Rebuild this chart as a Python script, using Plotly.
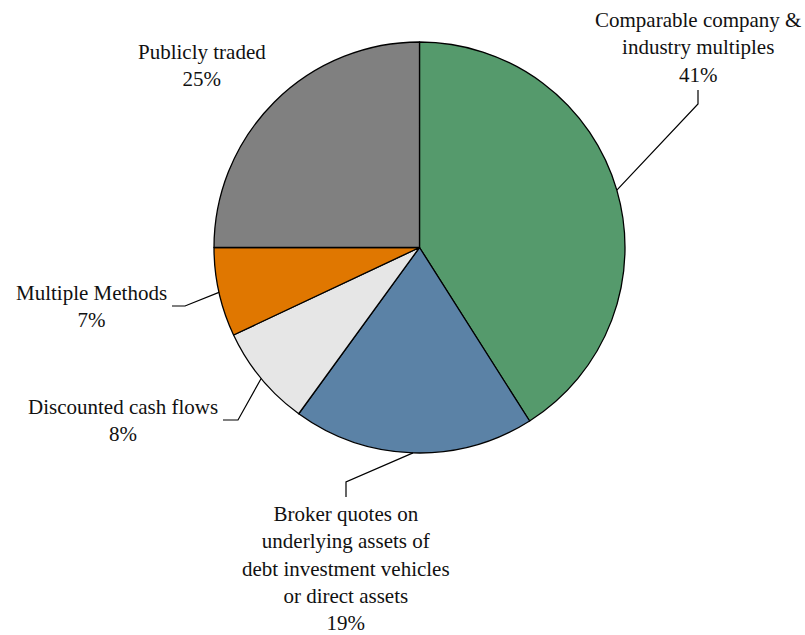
import math
import plotly.graph_objects as go

# Valuation methods, in clockwise order from 12 o'clock
categories = [
    "Comparable company &<br>industry multiples",
    "Broker quotes on<br>underlying assets of<br>debt investment vehicles<br>or direct assets",
    "Discounted cash flows",
    "Multiple Methods",
    "Publicly traded",
]
shares = [41, 19, 8, 7, 25]
colors = ["#559a6c", "#5b82a6", "#e6e6e6", "#e07700", "#808080"]

W, H = 805, 635
CX, CY, R = 419.5, 247.5, 205.5   # pie centre and radius in pixels

FONT = dict(family="Liberation Serif", size=21, color="#111111")

fig = go.Figure(go.Pie(
    labels=[c.replace("<br>", " ") for c in categories],
    values=shares,
    sort=False,
    direction="clockwise",
    rotation=0,
    marker=dict(colors=colors, line=dict(color="#000000", width=1.3)),
    textinfo="none",
    hoverinfo="label+percent",
    domain=dict(x=[(CX - R) / W, (CX + R) / W],
                y=[(H - CY - R) / H, (H - CY + R) / H]),
    showlegend=False,
))

def px(x):
    return x / W

def py(y):
    return 1 - y / H

# Mid-angle of each slice (degrees clockwise from 12 o'clock)
total = sum(shares)
mids = []
acc = 0
for v in shares:
    mids.append((acc + v / 2) / total * 360)
    acc += v

def edge(i):
    a = math.radians(mids[i])
    return CX + R * math.sin(a), CY - R * math.cos(a)

# Leader-line elbows and label centres (pixel positions)
layout_spec = [
    # (elbow point, end point, label centre x, label centre y)
    ((698, 104), (698, 90), 698, 47.5),
    ((346, 482), (346, 497), 346, 568),
    ((238, 420), (223, 420), 123, 420),
    ((185, 306), (172, 306), 91, 306),
    (None, None, 202, 65.5),
]

shapes = []
annotations = []
for i, (elbow, end, lx, ly) in enumerate(layout_spec):
    if elbow is not None:
        ex, ey = edge(i)
        path = (f"M {px(ex)},{py(ey)} L {px(elbow[0])},{py(elbow[1])} "
                f"L {px(end[0])},{py(end[1])}")
        shapes.append(dict(type="path", xref="paper", yref="paper", path=path,
                           line=dict(color="#000000", width=1.2)))
    annotations.append(dict(
        x=px(lx), y=py(ly), xref="paper", yref="paper",
        text=f"{categories[i]}<br>{shares[i]}%",
        showarrow=False, xanchor="center", yanchor="middle", align="center",
        font=FONT,
    ))

fig.update_layout(
    width=W, height=H,
    margin=dict(l=0, r=0, t=0, b=0),
    paper_bgcolor="white",
    plot_bgcolor="white",
    shapes=shapes,
    annotations=annotations,
)

fig.write_html("out.html")
